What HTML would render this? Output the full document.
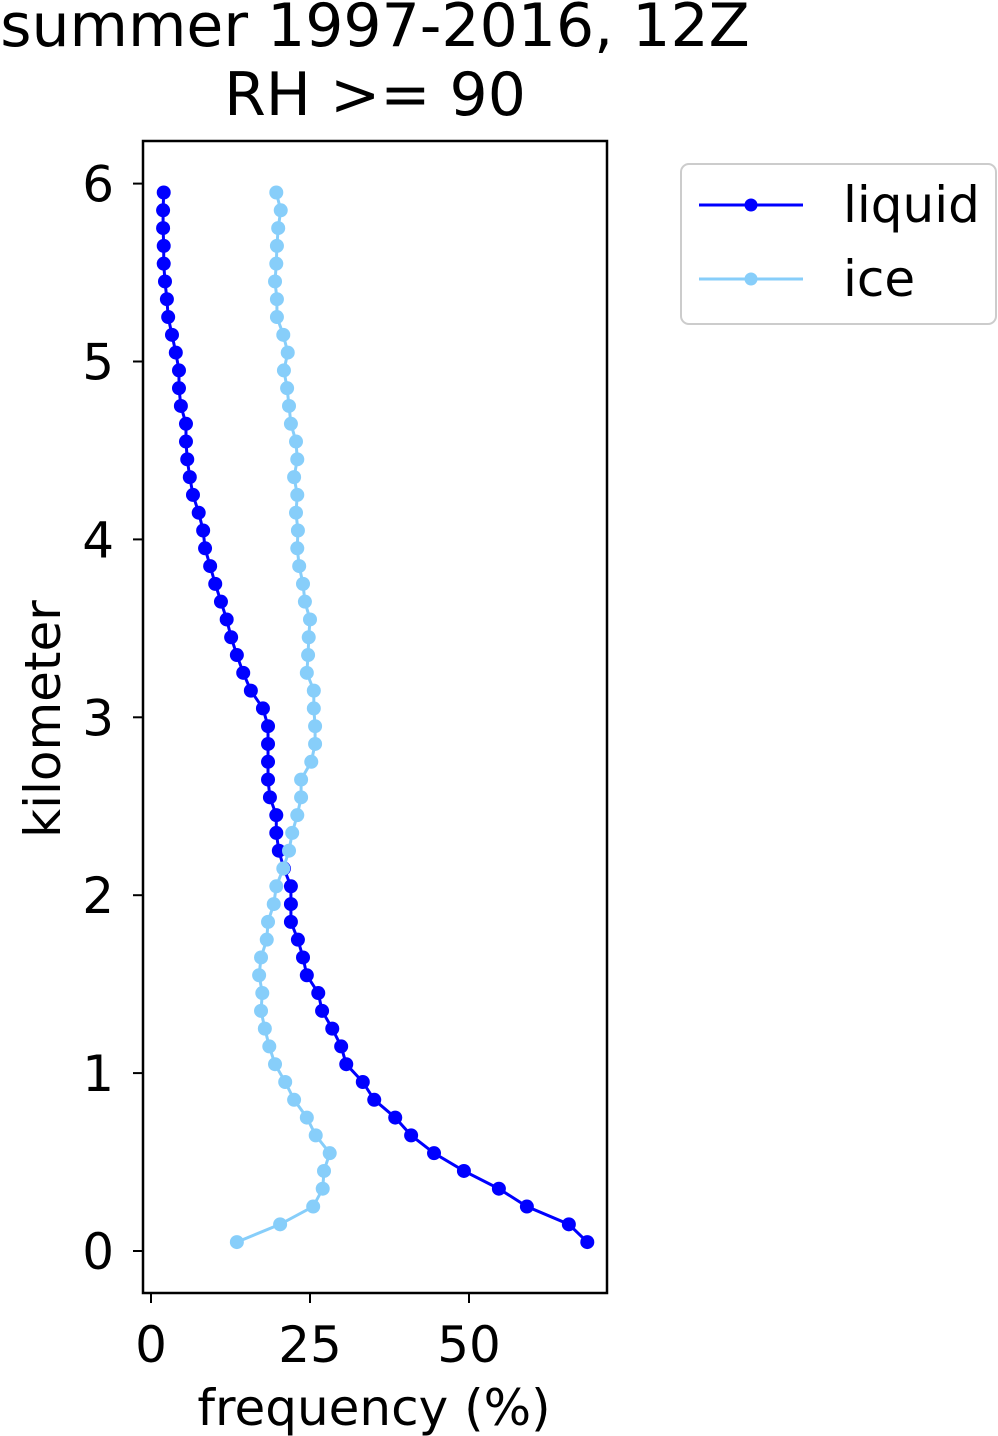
<!DOCTYPE html>
<html><head><meta charset="utf-8"><style>
html,body{margin:0;padding:0;background:#fff;}
svg{display:block;font-family:"DejaVu Sans","Liberation Sans",sans-serif;}
</style></head><body>
<svg id="chart" width="998" height="1436" viewBox="0 0 998 1436" xmlns="http://www.w3.org/2000/svg">
<text x="375" y="46" font-size="60" text-anchor="middle">summer 1997-2016, 12Z</text>
<text x="375" y="115" font-size="60" text-anchor="middle">RH &gt;= 90</text>
<g id="plot"></g>
<rect x="143" y="141" width="464" height="1152" fill="none" stroke="#000" stroke-width="2.5"/>
<g id="ticks"></g>
<text x="374" y="1425" font-size="50" text-anchor="middle">frequency (%)</text>
<text transform="translate(60,719) rotate(-90)" font-size="50" text-anchor="middle">kilometer</text>
<g>
<rect x="681" y="164" width="315" height="160" rx="8" fill="#fff" stroke="#ccc" stroke-width="2"/>
<g>
<line x1="699" y1="205" x2="803" y2="205" stroke="#0000ff" stroke-width="3"/><circle cx="751" cy="205" r="6.5" fill="#0000ff"/>
<text x="843" y="222" font-size="50">liquid</text></g>
<g>
<line x1="699" y1="279" x2="803" y2="279" stroke="#87cefa" stroke-width="3"/><circle cx="751" cy="279" r="6.5" fill="#87cefa"/>
<text x="843" y="296" font-size="50">ice</text></g>
</g>
</svg>
<script>
const heights = [];
for (let i = 0; i < 60; i++) heights.push(0.05 + i * 0.1);
const liquid = [68.6,65.7,59.1,54.7,49.2,44.5,40.9,38.4,35.1,33.3,30.7,29.9,28.5,26.9,26.3,24.5,23.9,23.1,22.0,22.0,22.0,20.9,20.1,19.7,19.7,18.7,18.4,18.4,18.4,18.4,17.6,15.7,14.5,13.5,12.6,11.9,11.0,10.1,9.3,8.5,8.2,7.5,6.6,6.1,5.7,5.5,5.5,4.7,4.4,4.4,3.9,3.3,2.7,2.5,2.2,2.0,2.0,1.9,1.9,2.0];
const ice = [13.5,20.3,25.5,27.0,27.2,28.1,25.9,24.5,22.5,21.1,19.5,18.6,17.9,17.3,17.5,17.0,17.3,18.2,18.4,19.3,19.7,20.8,21.7,22.2,23.0,23.6,23.6,25.2,25.8,25.8,25.6,25.6,24.5,24.7,24.8,25.0,24.2,23.9,23.3,23.0,23.1,22.8,23.0,22.5,23.0,22.8,22.0,21.7,21.4,20.9,21.5,20.8,19.8,19.8,19.5,19.7,19.8,20.0,20.4,19.7];
const xTicks = [0,25,50];
const yTicks = [0,1,2,3,4,5,6];

const NS = "http://www.w3.org/2000/svg";
const xs = v => 151 + v * 6.36;
const ys = v => 1251 - v * 177.9;
const plot = document.getElementById('plot');
const ticks = document.getElementById('ticks');

function series(vals, color, name) {
  const g = document.createElementNS(NS, 'g');
  
  
  const pl = document.createElementNS(NS, 'polyline');
  
  
  pl.setAttribute('points', vals.map((v, i) => xs(v) + ',' + ys(heights[i])).join(' '));
  pl.setAttribute('fill', 'none');
  pl.setAttribute('stroke', color);
  pl.setAttribute('stroke-width', '3');
  g.appendChild(pl);
  vals.forEach((v, i) => {
    const c = document.createElementNS(NS, 'circle');
    
    
    c.setAttribute('cx', xs(v));
    c.setAttribute('cy', ys(heights[i]));
    c.setAttribute('r', '7');
    c.setAttribute('fill', color);
    g.appendChild(c);
  });
  plot.appendChild(g);
}
series(liquid, '#0000ff', 'liquid-series');
series(ice, '#87cefa', 'ice-series');

xTicks.forEach(t => {
  const l = document.createElementNS(NS, 'line');
  
  
  l.setAttribute('x1', xs(t)); l.setAttribute('x2', xs(t));
  l.setAttribute('y1', 1293); l.setAttribute('y2', 1303);
  l.setAttribute('stroke', '#000'); l.setAttribute('stroke-width', '2');
  ticks.appendChild(l);
  const tx = document.createElementNS(NS, 'text');
  
  
  tx.setAttribute('x', xs(t)); tx.setAttribute('y', 1362);
  tx.setAttribute('font-size', '50'); tx.setAttribute('text-anchor', 'middle');
  tx.textContent = t;
  ticks.appendChild(tx);
});
yTicks.forEach(t => {
  const l = document.createElementNS(NS, 'line');
  
  
  l.setAttribute('x1', 133); l.setAttribute('x2', 143);
  l.setAttribute('y1', ys(t)); l.setAttribute('y2', ys(t));
  l.setAttribute('stroke', '#000'); l.setAttribute('stroke-width', '2');
  ticks.appendChild(l);
  const tx = document.createElementNS(NS, 'text');
  
  
  tx.setAttribute('x', 114); tx.setAttribute('y', ys(t) + 18);
  tx.setAttribute('font-size', '50'); tx.setAttribute('text-anchor', 'end');
  tx.textContent = t;
  ticks.appendChild(tx);
});
</script>
</body></html>
